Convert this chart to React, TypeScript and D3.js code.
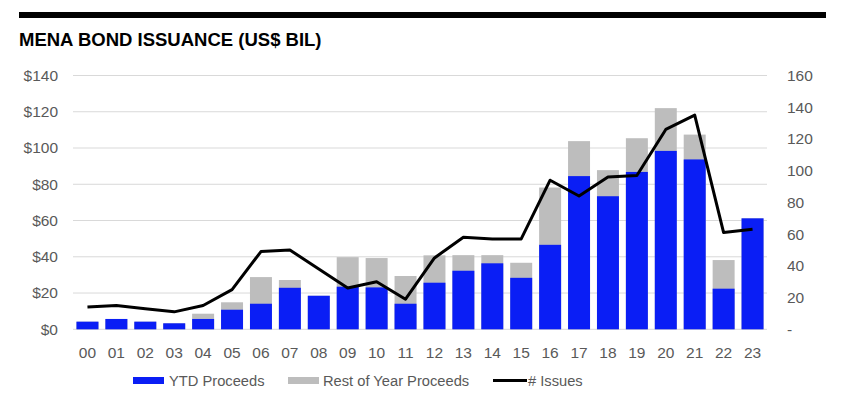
import React, { useEffect, useRef } from "react";
import * as d3 from "d3";

const years = ["00","01","02","03","04","05","06","07","08","09","10","11","12","13","14","15","16","17","18","19","20","21","22","23"];
const ytdProceeds = [4.2, 5.7, 4.2, 3.3, 5.7, 10.8, 14.1, 22.9, 18.5, 23.5, 23.1, 14.1, 25.7, 32.3, 36.4, 28.4, 46.6, 84.5, 73.4, 86.8, 98.4, 93.7, 22.4, 61.2];
const totalProceeds = [4.2, 5.7, 4.2, 3.3, 8.6, 14.9, 28.8, 27.2, 18.5, 39.8, 39.3, 29.4, 40.8, 40.9, 40.9, 36.7, 78.2, 103.8, 87.8, 105.4, 122, 107.4, 38.2, 61.2];
const issues = [14, 15, 13, 11, 15, 25, 49, 50, 38, 26, 30, 19, 45, 58, 57, 57, 94, 84, 96, 97, 126, 135, 61, 63];
const leftTicks = [0, 20, 40, 60, 80, 100, 120, 140];
const rightTicks = [0, 20, 40, 60, 80, 100, 120, 140, 160];

const BLUE = "#0a1ef5";
const GREY = "#bdbdbd";
const TEXT = "#595959";
const FONT = "Liberation Sans, Arial, sans-serif";

const App = () => {
    const ref = useRef<HTMLDivElement>(null);

    useEffect(() => {
        const width = 852;
        const height = 399;
        const left = 73, right = 767, top = 75.5, bottom = 329.3;

        d3.select(ref.current).select("svg").remove();
        const svg = d3.select(ref.current).append("svg")
            .attr("width", width)
            .attr("height", height)
            .style("display", "block")
            .style("font-family", FONT);

        // top rule and title
        svg.append("rect").attr("x", 19).attr("y", 12).attr("width", 807).attr("height", 6).attr("fill", "#000");
        svg.append("text").attr("x", 19).attr("y", 46)
            .attr("font-size", 18.5).attr("font-weight", "bold").attr("fill", "#000")
            .text("MENA BOND ISSUANCE (US$ BIL)");

        const x = d3.scaleBand().domain(years).range([left, right]).paddingInner(0.24).paddingOuter(0.12);
        const y = d3.scaleLinear().domain([0, 140]).range([bottom, top]);
        const y2 = d3.scaleLinear().domain([0, 160]).range([bottom, top]);

        // gridlines
        svg.append("g").selectAll("line").data(leftTicks).join("line")
            .attr("x1", left).attr("x2", right)
            .attr("y1", (d) => y(d)).attr("y2", (d) => y(d))
            .attr("stroke", "#d9d9d9").attr("stroke-width", 1);

        // left axis labels
        svg.append("g").selectAll("text").data(leftTicks).join("text")
            .attr("x", 58).attr("y", (d) => y(d)).attr("dy", "0.35em")
            .attr("text-anchor", "end").attr("font-size", 15.5).attr("fill", TEXT)
            .text((d) => `$${d}`);

        // right axis labels
        svg.append("g").selectAll("text").data(rightTicks).join("text")
            .attr("x", 787).attr("y", (d) => y2(d)).attr("dy", "0.35em")
            .attr("text-anchor", "start").attr("font-size", 15.5).attr("fill", TEXT)
            .text((d) => (d === 0 ? "-" : `${d}`));

        // bars: total (grey) behind, ytd (blue) on top
        svg.append("g").selectAll("rect").data(years).join("rect")
            .attr("x", (d) => x(d)!)
            .attr("width", x.bandwidth())
            .attr("y", (d, i) => y(totalProceeds[i]))
            .attr("height", (d, i) => bottom - y(totalProceeds[i]))
            .attr("fill", GREY);

        svg.append("g").selectAll("rect").data(years).join("rect")
            .attr("x", (d) => x(d)!)
            .attr("width", x.bandwidth())
            .attr("y", (d, i) => y(ytdProceeds[i]))
            .attr("height", (d, i) => bottom - y(ytdProceeds[i]))
            .attr("fill", BLUE);

        // x labels
        svg.append("g").selectAll("text").data(years).join("text")
            .attr("x", (d) => x(d)! + x.bandwidth() / 2)
            .attr("y", 357.5)
            .attr("text-anchor", "middle").attr("font-size", 15.5).attr("fill", TEXT)
            .text((d) => d);

        // issues line
        const line = d3.line<number>()
            .x((d, i) => x(years[i])! + x.bandwidth() / 2)
            .y((d) => y2(d));
        svg.append("path").datum(issues)
            .attr("fill", "none").attr("stroke", "#000").attr("stroke-width", 3)
            .attr("stroke-linejoin", "round")
            .attr("d", line);

        // legend
        const lg = svg.append("g").attr("font-size", 14.7).attr("fill", TEXT);
        lg.append("rect").attr("x", 133).attr("y", 377).attr("width", 31).attr("height", 7).attr("fill", BLUE);
        lg.append("text").attr("x", 169).attr("y", 386).text("YTD Proceeds");
        lg.append("rect").attr("x", 288).attr("y", 377).attr("width", 31).attr("height", 7).attr("fill", GREY);
        lg.append("text").attr("x", 323).attr("y", 386).text("Rest of Year Proceeds");
        lg.append("line").attr("x1", 493).attr("x2", 527).attr("y1", 380.5).attr("y2", 380.5)
            .attr("stroke", "#000").attr("stroke-width", 3);
        lg.append("text").attr("x", 528).attr("y", 386).text("# Issues");
    }, []);

    return <div ref={ref} style={{ margin: -8 }}></div>;
};

export default App;
